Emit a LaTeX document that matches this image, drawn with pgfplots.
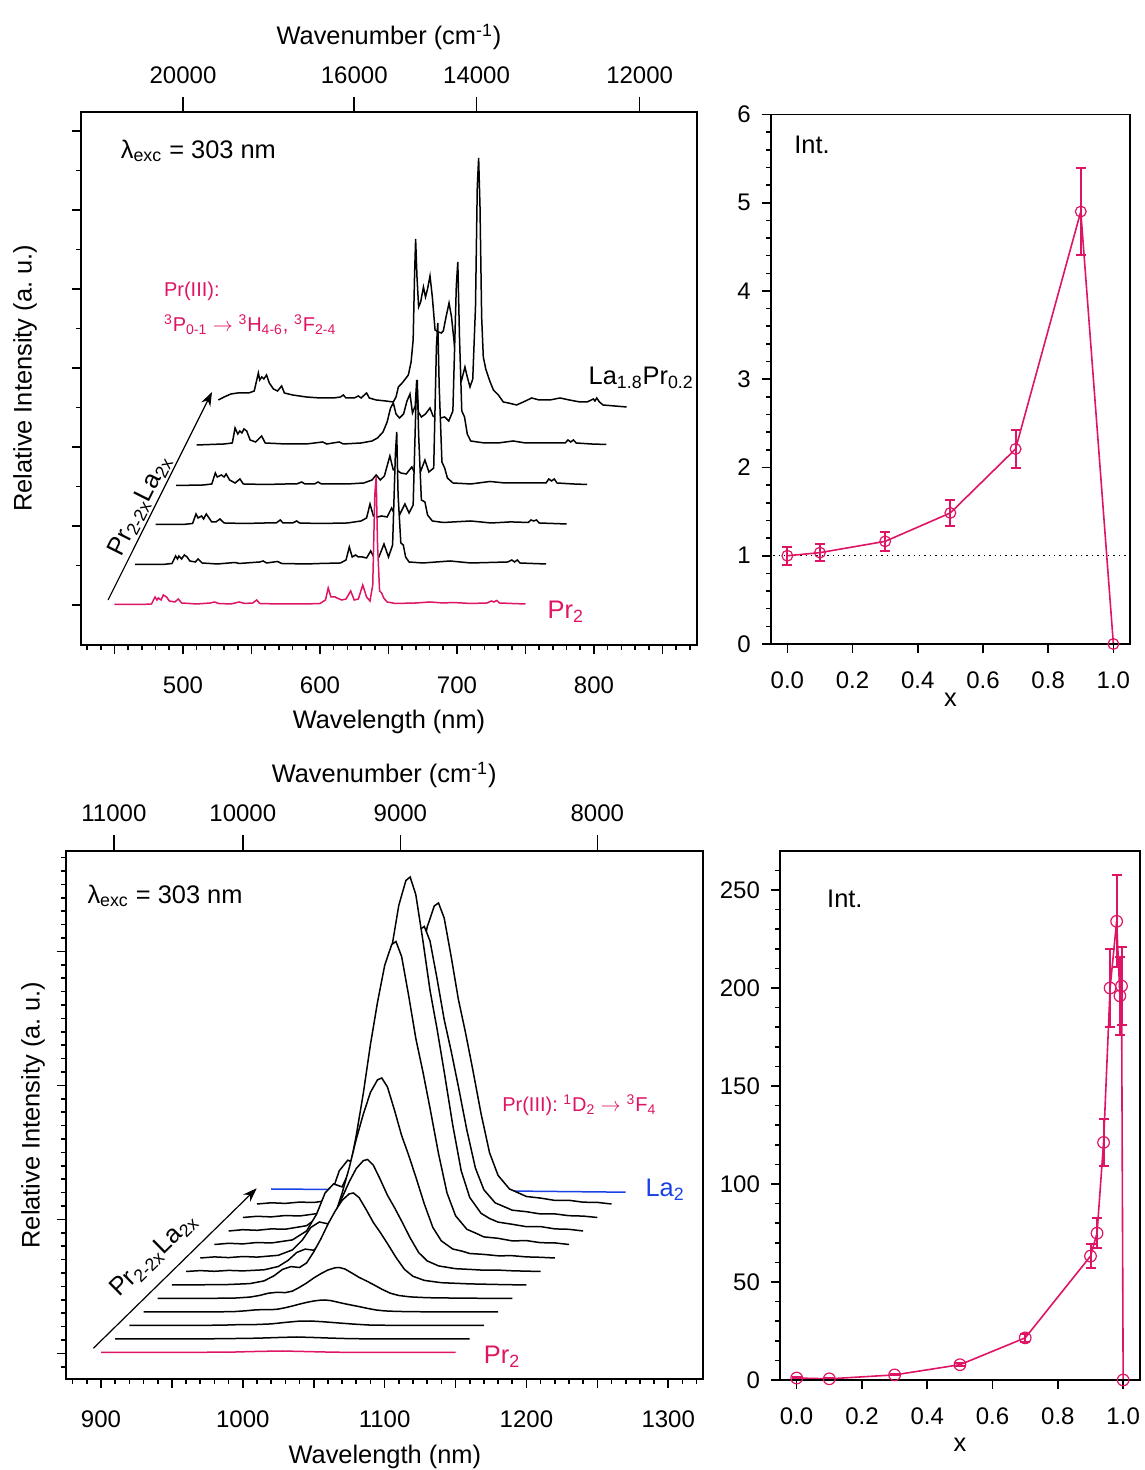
\documentclass[border=0pt]{standalone}
\usepackage{fontspec}
\setmainfont{Liberation Sans}
\usepackage{pgfplots}
\usepackage{pgfplotstable}
\pgfplotsset{compat=1.18}
\usetikzlibrary{arrows.meta}
\definecolor{prk}{RGB}{222,20,100}
\definecolor{lab}{RGB}{25,65,230}
\newcommand{\tfs}{\fontsize{12}{14}\selectfont}
\newcommand{\lfs}{\fontsize{12.7}{15}\selectfont}
\newcommand{\sfs}{\fontsize{10}{12}\selectfont}
\pgfplotsset{
  /pgf/number format/assume math mode=true,
  /pgf/number format/set thousands separator={},
  myax/.style={scale only axis, anchor=south west,
    axis line style={line width=0.9pt}, tick align=outside,
    xtick pos=left, ytick pos=left,
    tick style={line width=0.8pt, black},
    major tick length=4.5pt, minor tick length=2.3pt,
    tick label style={font=\tfs},
    axis on top},
  topax/.style={scale only axis, anchor=south west,
    axis x line*=top, axis y line=none, x axis line style={-, line width=0.9pt},
    tick align=outside, tick style={line width=0.8pt, black},
    major tick length=7.5pt, tick label style={font=\tfs},
    xticklabel style={yshift=3pt}, ymin=0, ymax=1},
  spec/.style={black, line width=0.75pt},
  wfill/.style={draw=none, fill=white},
}
\begin{document}
\pgfplotstableread{
x y
450 0.5
470 0.5
477 1
479.6 8
481 5
482 7
484 5
485.6 10
488 8
490 4
494 3
496.6 6
499 2
510 1
520 2
523 3
526 1.5
535 1
541 3
545 1.5
551 2
553.8 5
556 1.5
570 1
590 1
600 1.5
604 5
606 17
608 8
611 8
614 6
616 5
619 6
622.4 14
625 5
628 6
631.2 20
634 8
636.5 4
638.5 20
640 110
641 128
642 60
643.5 14
645 12
646.5 7
649 3
655 1.5
670 2
680 3
690 2
697 2.5
710 1.5
722 2
725 4
727 3
729 4.5
731 2
740 1.5
750 1
}\tA
\pgfplotstableread{
x y
465 40.5
485 40.5
492 41.5
494.6 49
496 46
497 49
499 46
501 50
503 48
505 44
509 43
511 46
514 42
525 41
538 42.5
541 41.5
556 43
558.5 44
561 42
569 43.5
572 41.5
590 41
600 41.5
615 42
619 45
621.4 58
623.5 48
626 50
628 48
631 48
634 47
637 54
640 46
643 48
646.7 61
650 48
653 60
655 150
656 173
657 110
659 62
660.8 60
662.5 48
665 43
675 42
695 44
710 42
737 43
740 45
742 43
744 45
746 42
755 41.5
765 41
}\tB
\pgfplotstableread{
x y
480 80.5
500 80.5
507 81.5
509.5 91
511 87
513.6 89
515 86
517 91
519 87
521 83
524 83
527 86
530 82
545 81.5
560 82
568 82
571 85
573 82
580 82
583 84
585 82
600 81.5
620 82
630 84
634 87
636.5 101
639 89
642 88
645 89
649 88
652.3 97
655 89
658 90
662 101
665 92
668 100
670 200
671 225
672 170
674 105
676.6 103
678.5 90
682 84
690 82.5
710 84
725 82
738 83
741 83
752 82.5
754 85
756 84
758 85
760 82
770 81.5
780 81
}\tC
\pgfplotstableread{
x y
495 119.5
515 120
521 121
523.6 132
525 128
528 130
530 128
531.5 131
534 125
538 122
541.6 126
544 121
560 120.5
575 121
583 121
586.6 123
589 121
596 121
598.6 123
601 121
620 121
632 122
638 125
641 130
644 125
647 129
651 149
653.5 135
656 135
659 132
663 131
667 138
669.5 131
673 132
676.6 145
679.5 133
683 137
685 259
686 282
687 219
689 143
691 137
693 127
697 122
710 121
724 123.5
735 122
750 122
765 122
767 126
769 124
771 126
773 122
785 121
795 120.5
}\tD
\pgfplotstableread{
x y
510 160
530 161
536 162
538 177
540 171
541.5 174
543 172
544.5 176
546.5 174
549 165
553 163
557.4 169
560 162
575 161
590 161
602 163
605 161
614 163
617 161
630 162
638 164
642 167
646 173
649 183
651.5 197
653.5 202
655.5 191
658 187
661 191
663.5 204
665.7 211
667.5 192
669.5 199
670.6 225
671.8 193
674 188
677 191
680.3 197
682.5 189
685 187
688 187
691 188
694 184
697 194
699.5 319
700.6 343
701.8 269
703.5 194
705.5 188
707.5 171
710 164
720 162
730 162
741 164
750 162
765 162
779 162
781 165
783 163
785 165
787 162
798 161
809 160.5
}\tE
\pgfplotstableread{
x y
525.8 205
530 208
535 211
540 212
548 212
552 214
554 226
555 232
556 225
557.5 228
559 226
561 230
563 222
566 216
569 214
572 219
574 212
580 210
590 208
600 207
610 207
615 208
617 210
619 207
625 207
628 209
630 207
634 212
636 207
641 205
648 204
653.5 203
655.5 208
657.2 218
660 222
664.5 230
666.5 243
668 265
669 328
669.8 366
670.8 328
672 298
673.5 303
675.5 318
677 308
678.5 316
680.3 329
682 308
684 275
686.4 273
688.5 272
690 274
692 288
694.2 302
696 288
698.5 255
701 235
703.4 225
705.8 238
707.5 228
709.5 218
711.5 226
713.5 298
714.8 418
715.8 447
716.8 398
718 288
719.2 248
721 236
722.9 228
724.5 222
726.6 215
728 213
730.2 210
733.8 203
737.5 202
743.5 200
750 204
754.5 207
760 205
767.9 205
775.2 207
782 205
789.8 203
795 203
799.5 206
800.7 204
802 207
804 203
806.6 200
815 199
823.8 198
}\tF
\pgfplotstableread{
x y
900 0
960 0.1
980 0.3
995 0.5
1005 0.9
1015 1.2
1028 1.5
1040 1.1
1052 0.7
1064 0.3
1080 0.1
1110 0
1150 0
}\bA
\pgfplotstableread{
x y
910 13.5
970 13.6
990 13.9
1010 14.3
1025 15
1038 15.5
1050 15.0
1062 14.4
1074 13.9
1090 13.6
1120 13.5
1160 13.5
}\bB
\pgfplotstableread{
x y
920 27
960 27.1
985 27.3
998 27.9
1010 28
1020 28.6
1030 30.1
1040 31.4
1048 31.5
1057 30.7
1067 29.6
1078 28.4
1090 27.4
1110 27.1
1170 27
}\bC
\pgfplotstableread{
x y
930 40.5
950 40.5
970 40.6
985 40.7
995 41
1002 41.7
1008 42.5
1014 42.9
1020 42.8
1025 43.4
1030 44.8
1035 46.5
1040 48.4
1045 50.1
1050 51.5
1055 52.4
1058 52.5
1062 51.9
1067 50.3
1072 48.7
1077 47.3
1082 45.9
1088 44.1
1094 42.5
1100 41.6
1108 41.1
1120 40.8
1140 40.6
1160 40.6
1180 40.5
}\bD
\pgfplotstableread{
x y
940 54
960 54.1
980 54.2
995 54.5
1005 55.4
1012 57.1
1018 59.3
1024 60.2
1030 59.9
1035 61.4
1040 65.2
1045 69.5
1050 74.5
1055 78.8
1060 82.5
1065 84.7
1068 85
1072 83.5
1077 79.4
1082 75.1
1087 71.7
1092 68
1098 63.3
1104 59.3
1110 57
1118 55.6
1130 54.8
1150 54.4
1170 54.2
1190 54
}\bE
\pgfplotstableread{
x y
950 67.5
970 67.7
990 68
1005 68.9
1015 71.6
1022 76.7
1028 83.1
1034 85.9
1040 85
1045 89.6
1050 100.6
1055 113.5
1060 128.2
1065 141.1
1070 152.1
1075 158.6
1078 159.5
1082 154.9
1087 142.9
1092 130.1
1097 119.9
1102 108.9
1108 95.1
1114 83.1
1120 76.2
1128 72.1
1140 69.8
1160 68.6
1180 68
1200 67.5
}\bF
\pgfplotstableread{
x y
960 81
970 81.9
980 81.2
990 82.1
1000 81.6
1015 82.7
1025 86
1032 92.2
1038 100
1044 103.4
1050 102.3
1055 107.9
1060 121.3
1065 137
1070 154.9
1075 170.6
1080 184
1085 191.9
1088 193
1092 187.4
1097 172.8
1102 157.2
1107 144.8
1112 131.4
1118 114.6
1124 100
1130 91.6
1138 86.6
1150 83.8
1160 83.1
1170 82.3
1180 82.4
1190 81.7
1210 81
}\bG
\pgfplotstableread{
x y
970 94.5
980 95.6
990 94.9
1000 96
1010 95.4
1025 97.2
1035 102.6
1042 112.5
1048 125.1
1054 130.5
1060 128.7
1065 137.7
1070 159.3
1075 184.5
1080 213.3
1085 238.5
1090 260.1
1095 272.7
1098 274.5
1102 265.5
1107 242.1
1112 216.9
1117 197.1
1122 175.5
1128 148.5
1134 125.1
1140 111.6
1148 103.5
1155 101.2
1160 99
1170 98.1
1180 96.7
1190 96.8
1200 95.6
1210 95.2
1220 94.5
}\bH
\pgfplotstableread{
x y
980 108
990 109.2
1000 108.6
1010 110
1020 109.5
1035 112.6
1045 121.6
1052 138.3
1058 159.5
1064 168.6
1070 165.6
1075 180.7
1080 217.1
1085 259.5
1090 308
1095 350.4
1100 386.8
1105 408
1108 411
1112 395.9
1117 356.5
1122 314
1127 280.7
1132 244.4
1138 198.9
1144 159.5
1150 136.8
1158 123.2
1164 119.5
1170 115.6
1180 114.2
1190 111.6
1200 111.9
1210 109.8
1220 109.6
1230 108
}\bI
\pgfplotstableread{
x y
990 121.5
1000 122.8
1010 122.2
1020 123.6
1030 123.3
1045 126.8
1055 137.4
1062 156.9
1068 181.7
1074 192.3
1080 188.8
1085 206.5
1090 248.9
1095 298.5
1100 355.1
1105 404.7
1110 447.2
1115 472
1118 475.5
1122 457.8
1127 411.8
1132 362.2
1137 323.3
1142 280.8
1148 227.7
1154 181.7
1160 155.1
1168 139.2
1174 134
1180 130.4
1190 128.2
1200 125.8
1210 125.9
1220 123.6
1230 123.2
1240 121.5
}\bJ
\pgfplotstableread{
x y
1000 135
1010 136.2
1020 135.6
1030 137
1040 136.5
1055 139.4
1065 148.1
1072 164.1
1078 184.5
1084 193.2
1090 190.3
1095 204.8
1100 239.8
1105 280.5
1110 327.1
1115 367.8
1120 402.7
1125 423.1
1128 426
1132 411.5
1137 373.6
1142 332.9
1147 300.9
1152 266
1158 222.3
1164 184.5
1170 162.7
1178 149.6
1184 146
1190 142.3
1200 140.8
1210 138.5
1220 138.6
1230 136.8
1240 136.4
1250 135
}\bK
\pgfplotstableread{
x y
1010 148.5
1020 149.7
1030 149.1
1040 150.4
1050 150
1065 153
1075 162.1
1082 178.6
1088 199.7
1094 208.7
1100 205.7
1105 220.7
1110 256.9
1115 299
1120 347.2
1125 389.3
1130 425.4
1135 446.5
1138 449.5
1142 434.5
1147 395.3
1152 353.2
1157 320.1
1162 284
1168 238.8
1174 199.7
1180 177.1
1188 163.6
1194 159.8
1200 156
1210 154.4
1220 152.1
1230 152.2
1240 150.3
1250 150.1
1260 148.5
}\bL
\pgfplotstableread{
x y
1020 163.5
1100 162.6
1180 161.6
1270 160.3
}\bLa
\pgfplotstableread{
x y e
0 1.0 0.10
0.1 1.035 0.10
0.3 1.163 0.11
0.5 1.485 0.146
0.7 2.21 0.22
0.9 4.9 0.49
1.0 0 0
}\iTop
\pgfplotstableread{
x y e
0 1.0 0.3
0.1 0.6 0.3
0.3 2.6 0.3
0.5 7.8 0.8
0.7 21.5 2.0
0.9 63.2 6
0.92 74.9 7.5
0.94 121.2 12
0.96 200 20
0.98 234 23.5
0.99 196 20
0.995 201 20
1.0 0 0
}\iBot
\begin{tikzpicture}
\useasboundingbox (0pt,0pt) rectangle (572pt,735pt);
\coordinate (TL) at (40.5pt,412.5pt);
\coordinate (TR) at (385.35pt,413pt);
\coordinate (BL) at (32.85pt,45.5pt);
\coordinate (BR) at (390pt,45pt);
% ================= TOP LEFT =================
\begin{axis}[myax, at={(TL)}, width=308pt, height=266.5pt,
  xmin=425.55, xmax=875.2, ymin=-40, ymax=493,
  xtick={500,600,700,800}, minor xtick={430,440,...,870},
  extra x ticks={450,550,650,750,850}, extra x tick labels={},
  xticklabel style={yshift=-8pt},
  ytick={0,79,...,474}, yticklabels={}, minor ytick={39.5,118.5,...,434.5},
  xlabel={Wavelength (nm)}, ylabel={Relative Intensity (a.\ u.)},
  every axis x label/.style={at={(axis description cs:0.5,-0.1445)}, anchor=center, font=\lfs},
  every axis y label/.style={at={(axis description cs:-0.091,0.5)}, rotate=90, anchor=center, font=\lfs}]
\addplot[wfill] table {\tF} \closedcycle;
\addplot[spec] table {\tF};
\addplot[wfill] table {\tE} \closedcycle;
\addplot[spec] table {\tE};
\addplot[wfill] table {\tD} \closedcycle;
\addplot[spec] table {\tD};
\addplot[wfill] table {\tC} \closedcycle;
\addplot[spec] table {\tC};
\addplot[wfill] table {\tB} \closedcycle;
\addplot[spec] table {\tB};
\addplot[wfill] table {\tA} \closedcycle;
\addplot[prk, line width=0.75pt] table {\tA};
\node[anchor=west, font=\lfs] at (axis cs:449.5,454) {λ\textsubscript{exc} = 303 nm};
\node[anchor=west, font=\sfs, text=prk] at (axis cs:481,314) {Pr(III):};
\node[anchor=west, font=\sfs, text=prk] at (axis cs:481,280) {\textsuperscript{3}P\textsubscript{0-1} $\rightarrow$ \textsuperscript{3}H\textsubscript{4-6}, \textsuperscript{3}F\textsubscript{2-4}};
\node[anchor=west, font=\lfs] at (axis cs:791,227) {La\textsubscript{1.8}Pr\textsubscript{0.2}};
\node[anchor=west, font=\lfs, text=prk] at (axis cs:761,-7) {Pr\textsubscript{2}};
\draw[line width=0.6pt, -{Stealth[length=7pt,width=5pt]}] (axis cs:445.3,5) -- (axis cs:521.2,213);
\node[rotate=63.4, font=\lfs] at (axis cs:468.6,99) {Pr\textsubscript{2-2x}La\textsubscript{2x}};
\end{axis}
\begin{axis}[topax, at={(TL)}, width=308pt, height=266.5pt,
  xmin=425.55, xmax=875.2,
  xtick={500,625,714.2857,833.3333}, xticklabels={20000,16000,14000,12000},
  xlabel={Wavenumber (cm\textsuperscript{-1})},
  every axis x label/.style={at={(axis description cs:0.5,1.1407)}, anchor=center, font=\lfs}]
\addplot[draw=none] coordinates {(500,0.5)};
\end{axis}
% ================= TOP RIGHT =================
\begin{axis}[myax, at={(TR)}, width=179.65pt, height=264.75pt,
  xmin=-0.051, xmax=1.051, ymin=0, ymax=6,
  xtick={0,0.2,0.4,0.6,0.8,1}, xticklabels={0.0,0.2,0.4,0.6,0.8,1.0},
  ytick={0,1,2,3,4,5,6}, minor y tick num=4,
  xticklabel style={yshift=-6pt}, yticklabel style={xshift=-2pt},
  xlabel={x},
  every axis x label/.style={at={(axis description cs:0.5,-0.1058)}, anchor=center, font=\lfs}]
\addplot[black, dotted, line width=0.7pt] coordinates {(-0.06,1) (1.06,1)};
\addplot[prk, line width=0.8pt, mark=o, mark size=2.7pt, mark options={line width=0.6pt},
  error bars/.cd, y dir=both, y explicit, error mark options={rotate=90, mark size=2.5pt, line width=1pt, prk},
  error bar style={line width=1pt, prk}]
  table[x=x, y=y, y error=e] {\iTop};
\node[anchor=west, font=\lfs] at (axis cs:0.0,5.66) {Int.};
\end{axis}
% ================= BOTTOM LEFT =================
\begin{axis}[myax, at={(BL)}, width=318.5pt, height=264pt,
  xmin=875.1, xmax=1324.3, ymin=-26.5, ymax=501.5,
  xtick={900,1000,1100,1200,1300}, minor xtick={880,890,...,1320},
  extra x ticks={950,1050,1150,1250}, extra x tick labels={},
  xticklabel style={yshift=-8pt},
  ytick={-1,133,267,401}, yticklabels={}, minor ytick={-14.4,-1.0,...,494.2},
  xlabel={Wavelength (nm)}, ylabel={Relative Intensity (a.\ u.)},
  every axis x label/.style={at={(axis description cs:0.501,-0.1477)}, anchor=center, font=\lfs},
  every axis y label/.style={at={(axis description cs:-0.0513,0.5)}, rotate=90, anchor=center, font=\lfs}]
\addplot[lab, line width=0.75pt] table {\bLa};
\addplot[wfill] table {\bL} \closedcycle;
\addplot[spec] table {\bL};
\addplot[wfill] table {\bK} \closedcycle;
\addplot[spec] table {\bK};
\addplot[wfill] table {\bJ} \closedcycle;
\addplot[spec] table {\bJ};
\addplot[wfill] table {\bI} \closedcycle;
\addplot[spec] table {\bI};
\addplot[wfill] table {\bH} \closedcycle;
\addplot[spec] table {\bH};
\addplot[wfill] table {\bG} \closedcycle;
\addplot[spec] table {\bG};
\addplot[wfill] table {\bF} \closedcycle;
\addplot[spec] table {\bF};
\addplot[wfill] table {\bE} \closedcycle;
\addplot[spec] table {\bE};
\addplot[wfill] table {\bD} \closedcycle;
\addplot[spec] table {\bD};
\addplot[wfill] table {\bC} \closedcycle;
\addplot[spec] table {\bC};
\addplot[wfill] table {\bB} \closedcycle;
\addplot[spec] table {\bB};
\addplot[prk, line width=0.75pt] table {\bA};
\node[anchor=west, font=\lfs] at (axis cs:885.5,456.5) {λ\textsubscript{exc} = 303 nm};
\node[anchor=west, font=\sfs, text=prk] at (axis cs:1178,247.5) {Pr(III): \textsuperscript{1}D\textsubscript{2} $\rightarrow$ \textsuperscript{3}F\textsubscript{4}};
\node[anchor=west, font=\lfs, text=lab] at (axis cs:1279,162.5) {La\textsubscript{2}};
\node[anchor=west, font=\lfs, text=prk] at (axis cs:1165,-4.5) {Pr\textsubscript{2}};
\draw[line width=0.6pt, -{Stealth[length=7pt,width=5pt]}] (axis cs:894.6,4.2) -- (axis cs:1009.8,164.2);
\node[rotate=44.5, font=\lfs] at (axis cs:937.4,97.5) {Pr\textsubscript{2-2x}La\textsubscript{2x}};
\end{axis}
\begin{axis}[topax, at={(BL)}, width=318.5pt, height=264pt,
  xmin=875.1, xmax=1324.3,
  xtick={909.0909,1000,1111.1111,1250}, xticklabels={11000,10000,9000,8000},
  major tick length=8pt,
  xlabel={Wavenumber (cm\textsuperscript{-1})},
  every axis x label/.style={at={(axis description cs:0.5,1.144)}, anchor=center, font=\lfs}]
\addplot[draw=none] coordinates {(1000,0.5)};
\end{axis}
% ================= BOTTOM RIGHT =================
\begin{axis}[myax, at={(BR)}, width=179.9pt, height=264.5pt,
  xmin=-0.051, xmax=1.051, ymin=0, ymax=269.9,
  xtick={0,0.2,0.4,0.6,0.8,1}, xticklabels={0.0,0.2,0.4,0.6,0.8,1.0},
  ytick={0,50,100,150,200,250}, minor ytick={10,20,...,260},
  xticklabel style={yshift=-6pt}, yticklabel style={xshift=-2pt},
  xlabel={x},
  every axis x label/.style={at={(axis description cs:0.5,-0.123)}, anchor=center, font=\lfs}]
\addplot[prk, line width=0.8pt, mark=o, mark size=2.9pt, mark options={line width=0.6pt},
  error bars/.cd, y dir=both, y explicit, error mark options={rotate=90, mark size=2.5pt, line width=1pt, prk},
  error bar style={line width=1pt, prk}]
  table[x=x, y=y, y error=e] {\iBot};
\node[anchor=west, font=\lfs] at (axis cs:0.072,245.4) {Int.};
\end{axis}
\end{tikzpicture}
\end{document}
